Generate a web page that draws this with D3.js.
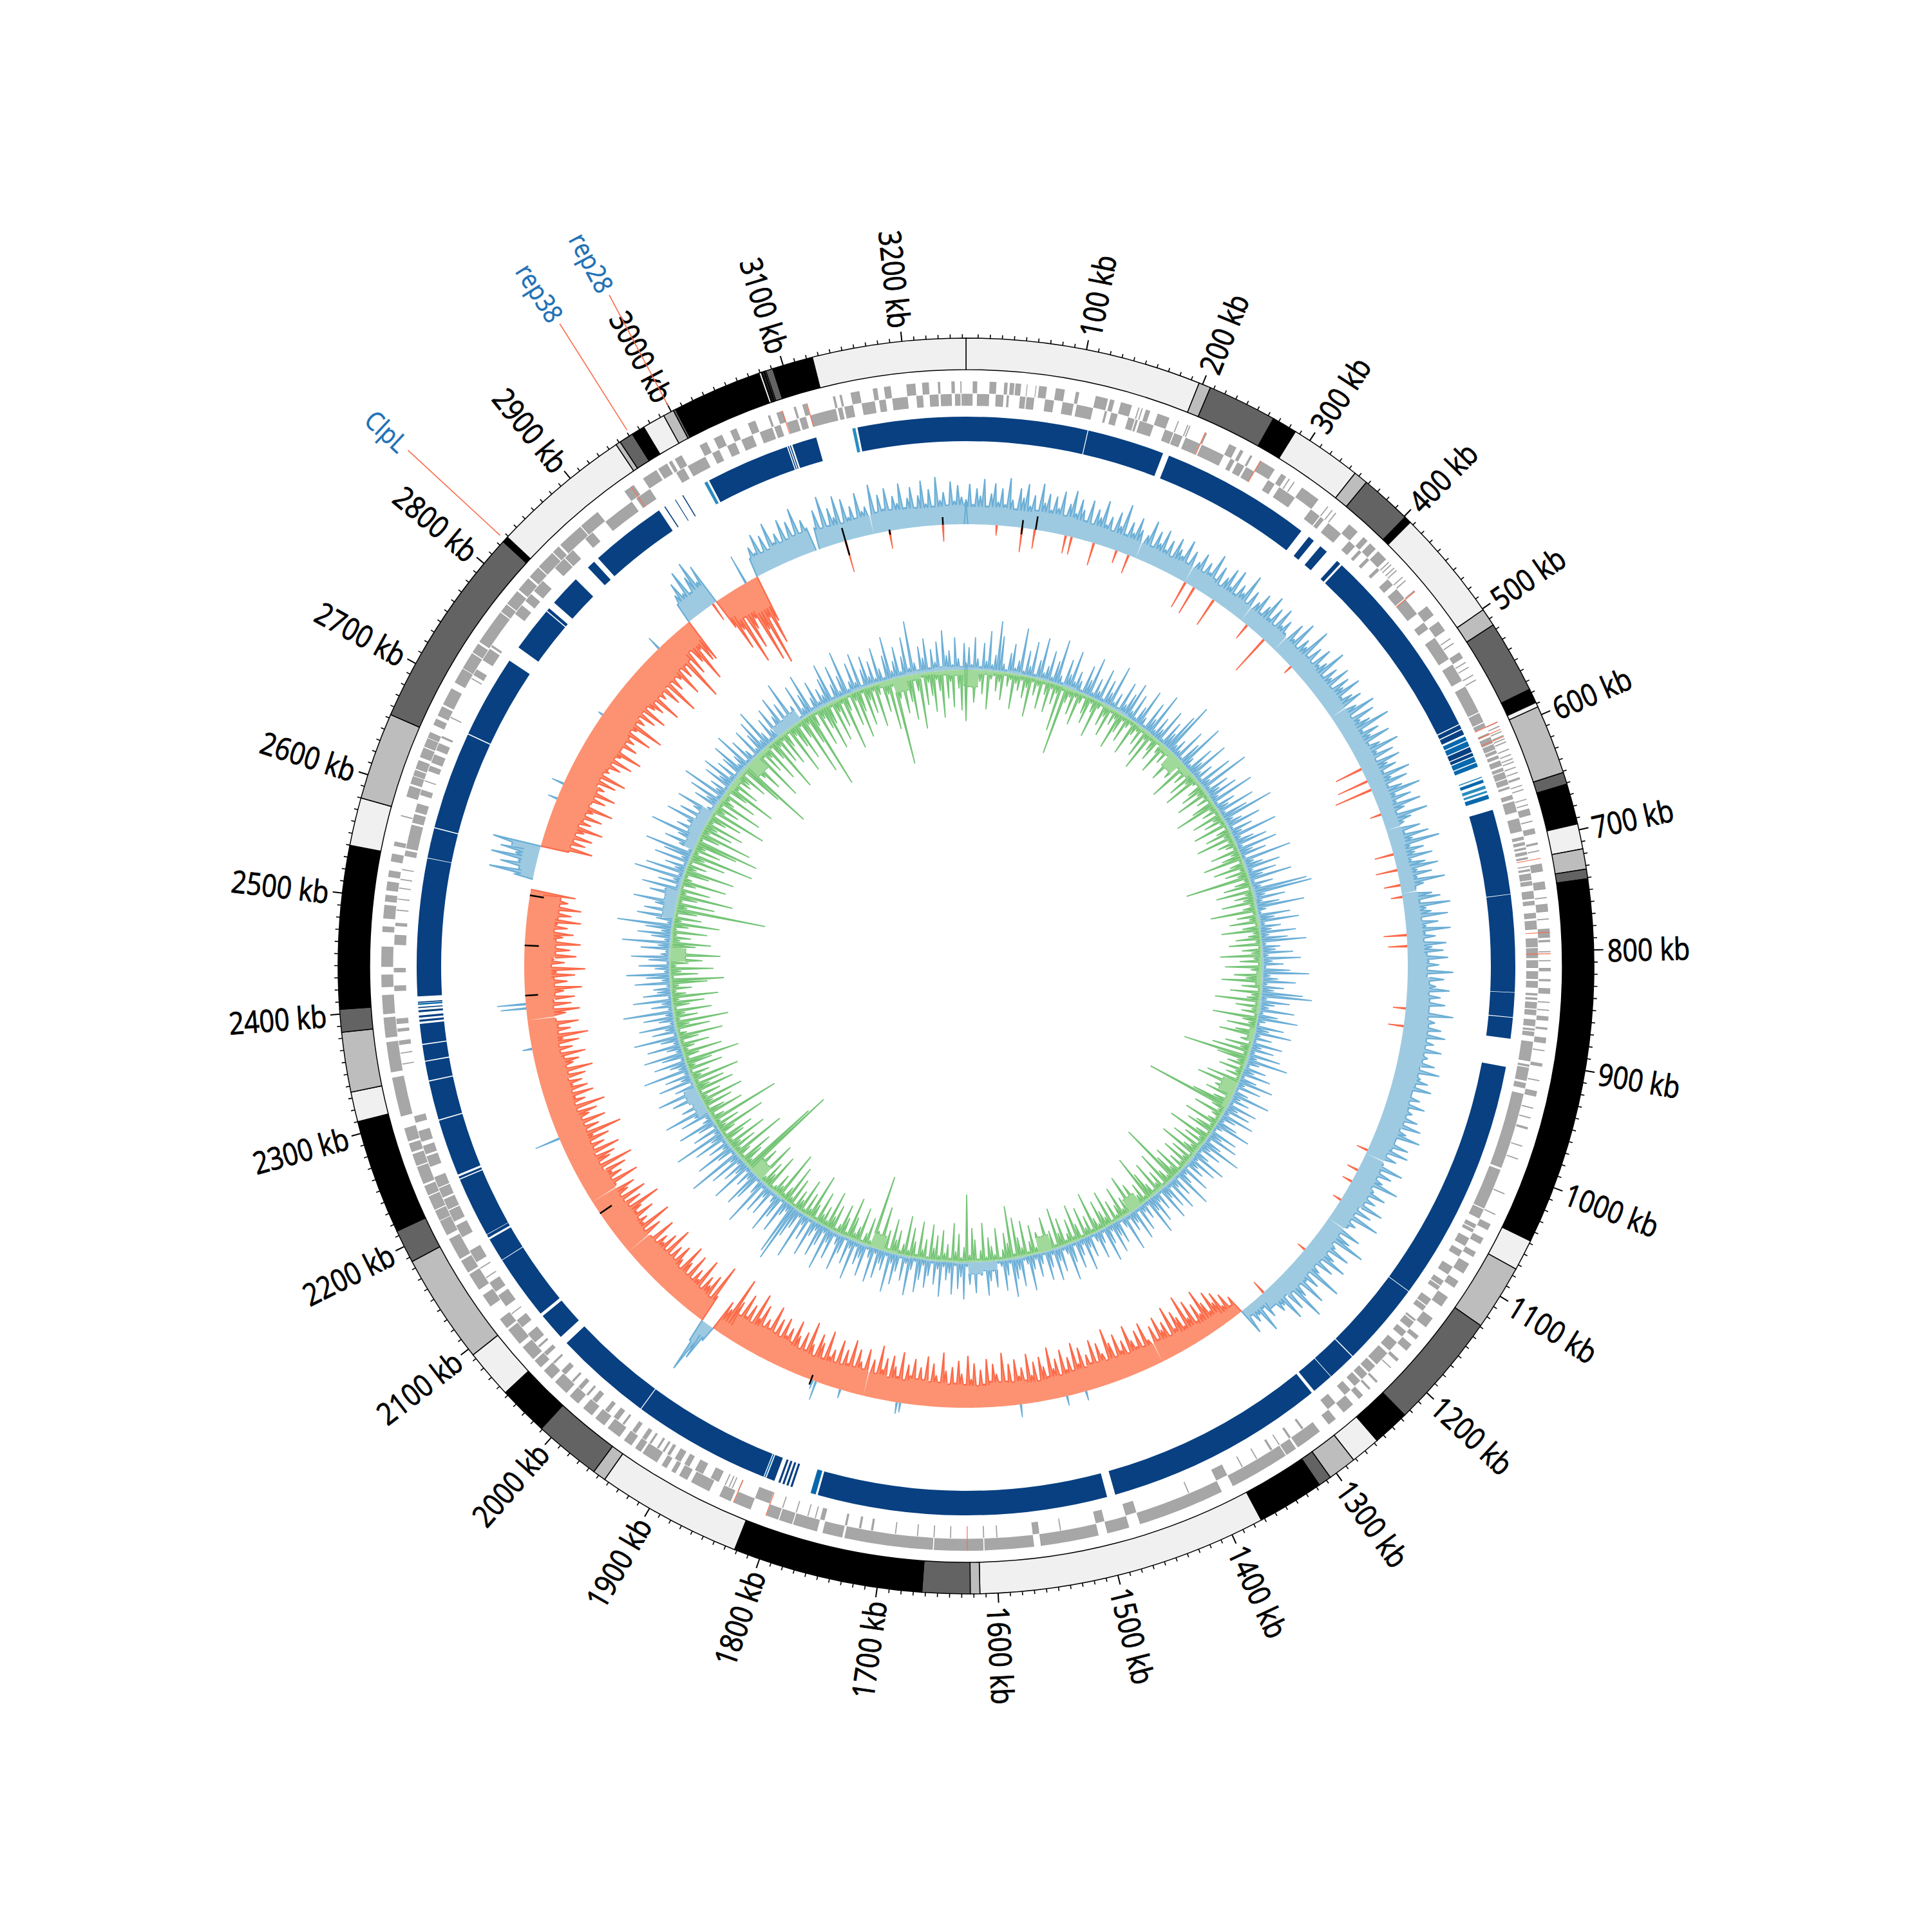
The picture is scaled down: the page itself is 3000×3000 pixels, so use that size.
<!DOCTYPE html>
<html><head><meta charset="utf-8">
<script src="https://cdn.jsdelivr.net/npm/d3@7"></script>
<style>html,body{margin:0;background:#fff}svg{display:block}</style></head>
<body><svg id="c" width="3000" height="3000"></svg>
<script>
const totalKb = 3253;
const tickLabels = d3.range(100,3300,100);
const ideoEnds = [197,207,265,286,346,358,401,407,501,516,577,589,593,651,661,695,716,733,741,1048,1074,1129,1226,1257,1282,1306,1317,1373,1615,1623,1663,1822,1944,1955,2011,2053,2094,2186,2214,2310,2335,2385,2404,2540,2580,2653,2824,2829,2947,2951,2963,2974,2993,3002,3004,3079,3081,3082,3083,3084,3085,3091,3125,3253];
const ideoColors = ["#f0f0f0","#bdbdbd","#636363","#000","#f0f0f0","#bdbdbd","#636363","#000","#f0f0f0","#bdbdbd","#636363","#000","#f0f0f0","#bdbdbd","#636363","#000","#f0f0f0","#bdbdbd","#636363","#000","#f0f0f0","#bdbdbd","#636363","#000","#f0f0f0","#bdbdbd","#636363","#000","#f0f0f0","#bdbdbd","#636363","#000","#f0f0f0","#bdbdbd","#636363","#000","#f0f0f0","#bdbdbd","#636363","#000","#f0f0f0","#bdbdbd","#636363","#000","#f0f0f0","#bdbdbd","#636363","#000","#f0f0f0","#bdbdbd","#636363","#000","#f0f0f0","#bdbdbd","#636363","#000","#f0f0f0","#000","#f0f0f0","#000","#f0f0f0","#636363","#000","#f0f0f0"];
const geneOuter = [[6,10],[21,27],[34,37],[39,43],[44,49],[54,54.7],[62,62.7],[65,72],[80,88],[98,101],[116,127],[129,133],[139,149],[155,156],[158,159],[162,166],[173,184],[192,193],[201,202],[203,204],[218,220],[242,249],[253,256],[263,265],[273,288],[295,300],[303,304],[308,309],[317,335],[345,346],[350,351],[354,355],[370,380],[387,392],[395,402],[405,415],[418,419],[421,422],[425,426],[428,429],[436,437],[440,441],[452,453],[470,480],[487,497],[505,506],[510,511],[520,526],[530,531],[535,536],[543,544],[548,549],[590,591],[594,595],[599,600],[603,604],[606,607],[609,610],[616,617],[621,622],[625,626],[628,629],[633,634],[638,639],[643,645],[650,651],[654,655],[663,664],[668,669],[672,678],[683,684],[690,695],[703,705],[710,711],[722,729],[738,745],[752,753],[758,765],[771,772],[780,788],[790,792],[800,801],[808,809],[815,818],[825,827],[833,838],[845,846],[852,853],[858,862],[868,870],[877,882],[888,889],[900,903],[915,916],[925,930],[940,941],[949,950],[958,960],[975,976],[987,988],[1020,1021],[1040,1041],[1050,1056],[1064,1070],[1078,1083],[1090,1100],[1108,1115],[1125,1135],[1148,1158],[1168,1172],[1178,1185],[1195,1198],[1205,1206],[1222,1224],[1231,1233],[1240,1245],[1252,1263],[1272,1280],
[1290,1314],[1316,1326],[1327,1381],[1392,1470],[1480,1500],[1508,1560],[1566,1610],[1611,1655],[1656,1735],[1737,1755],[1760,1782],[1783,1795],[1796,1807],[1822,1838],[1841,1852],[1862,1880],[1884,1892],[1896,1900],[1905,1910],[1915,1930],[1932,1938],[1942,1950],[1955,1968],[1972,1982],[1986,1996],[2002,2012],[2016,2030],[2034,2044],[2048,2056],[2058,2072],[2076,2092],[2094,2104],[2118,2130],[2136,2152],[2154,2166],[2168,2188],[2192,2206],[2206.6,2216],[2217,2230],[2231,2240],[2242,2258],[2259,2270],[2272,2280],[2282,2294],[2305,2340],[2345,2372],[2376,2394],[2397,2414],[2421,2432],[2439,2457],[2470,2475],[2482,2494],[2497,2503],[2507,2515],[2519,2525],[2533,2540],[2547,2551],[2574,2575],[2592,2602],[2604,2611],[2611.6,2617],[2618,2626],[2629,2638],[2639,2647],[2647.6,2653],[2660,2666],[2669,2678],[2680,2696],[2702,2716],[2716.6,2732],[2733,2742],[2744,2776],[2777,2785],[2786,2800],[2802,2815],[2817,2828],[2829,2846],[2847,2854],[2856,2880],[2881,2900],[2930,2940],[2950,2964],[2966,2975],[2977,2980],[2983,2990],
[3008,3015],[3022,3030],[3038,3044],[3055,3062],[3074,3076],[3082,3088],[3098,3100],[3106,3110],[3134,3136],[3140,3142],[3150,3158],[3170,3174],[3180,3186],[3200,3208],[3214,3220],[3228,3230],[3240,3243],[3248,3249]];
const geneInner = [[0,6],[10,21],[27,34],[37,39],[49,54],[55,62],[72,80],[88,98],[101,116],[127,129],[133,139],[149,155],[156,158],[160,173],[184,192],[193,201],[204,218],[220,242],[249,253],[256,263],[265,273],[288,295],[300,317],[335,345],[346,350],[355,370],[380,387],[392,395],[402,405],[415,418],[429,436],[441,452],[453,470],[480,487],[497,520],[526,543],[549,575],[576,585],[586,590],[596,598],[600,606],[607,612],[613,616],[618,621],[623,628],[630,633],[634,640],[641,646],[648,650],[656,660],[662,672],[678,690],[695,698],[700,703],[705,707],[709,712],[714,716],[722,723],[725,727],[729,735],[736,740],[745,752],[754,758],[765,770],[772,780],[788,796],[797,806],[808,815],[818,825],[827,833],[838,840],[842,844],[846,852],[853,858],[862,868],[870,872],[873,877],[882,900],[903,905],[906,918],[920,925],[930,1000],[1002,1040],[1041,1050],[1056,1060],[1061,1064],[1070,1078],[1083,1089],[1100,1108],[1115,1120],[1121,1125],[1135,1142],[1143,1148],[1158,1160],[1161,1168],[1172,1178],[1185,1195],[1198,1212],[1214,1222],[1224,1231],[1233,1240],[1245,1252],[1263,1272],
[1300,1302],[1314,1316],[1326,1327],[1334,1336],[1350,1351],[1365,1366],[1381,1392],[1419,1420],[1470,1480],[1500,1508],[1540,1541],[1560,1566],[1598,1599],[1610,1611],[1640,1641],[1655,1656],[1670,1671],[1690,1691],[1711,1713],[1722,1724],[1735,1737],[1756,1760],[1764,1765],[1771,1772],[1782,1783],[1795,1796],[1808,1822],[1838,1839],[1844,1845],[1847,1848],[1851,1852],[1858,1866],[1874,1882],[1888,1893],[1897,1903],[1908,1911],[1914,1916],[1920,1922],[1928,1930],[1934,1938],[1945,1949],[1958,1960],[1965,1970],[1976,1980],[1990,1995],[2000,2002],[2008,2012],[2018,2020],[2028,2033],[2042,2044],[2052,2056],[2062,2064],[2068,2078],[2086,2094],[2101,2102],[2110,2122],[2126,2136],[2141,2142],[2151,2152],[2158,2170],[2184,2196],[2200,2211],[2212,2222],[2224,2233],[2234,2244],[2254,2264],[2266,2274],[2278,2288],[2296,2302],[2350,2351],[2360,2361],[2368,2372],[2380,2383],[2387,2392],[2417,2422],[2434,2438],[2459,2468],[2476,2479],[2490,2491],[2500,2501],[2510,2511],[2518,2519],[2527,2528],[2540,2545],[2547,2569],[2571,2579],[2581,2589],[2597,2602],[2610,2611],[2620,2625],[2628,2636],[2640,2647],[2652,2654],[2672,2673],[2712,2713],[2716,2722],[2732,2744],[2746,2748],[2783,2793],[2798,2806],[2810,2822],[2838,2850],[2851,2861],[2876,2885],[2900,2930],[2935,2950],[2978,2986],[2990,3008],[3015,3022],[3030,3038],[3044,3055],[3062,3074],[3076,3082],[3088,3098],[3100,3106],[3110,3134],[3136,3140],[3142,3150],[3158,3170],[3174,3180],[3186,3200],[3208,3214],[3220,3228],[3230,3240],[3243,3248],[3249,3253]];
const geneMarks = [218,273,453,590,597,604,717,783,802,1625,1807,1838,2937,3087,3110];
const bandDark = [[0,115.6],[116.4,190],[196,340],[349,355],[363,371],[384,388],[390,577],[578,582],[583,588],[601,606],[607,610],[664,745],[745.6,838],[838.5,861.5],[862.2,882],[909,1141],[1141.7,1222],[1223,1250],[1250.6,1271],[1274,1484],[1492,1768],[1793,1795],[1797,1799],[1801,1803],[1805,1807],[1811,1819],[1822,1954],[1954.8,2048],[2056,2082],[2085,2147],[2147.6,2170],[2172,2175],[2175.5,2233],[2234,2236],[2238,2292],[2293,2330],[2331,2349],[2350,2365],[2366,2385],[2387,2389],[2391,2393],[2396,2398],[2400,2401],[2405,2406],[2411,2542],[2542.5,2571],[2572,2665],[2666,2745],[2760,2803],[2804,2807],[2814,2844],[2860,2868],[2873,2946],[2952,2953],[2964,2964.7],[2972,2973],[3001,3081],[3082,3083],[3084,3085],[3086.5,3110],[3150,3253]];
const bandMid = [[590,594],[595,600],[611,616],[617,621],[634,637],[649,653],[1770,1775],[1820,1821.2],[2403,2404.5]];
const bandLight = [[631,632],[640,643],[645,647],[2996,2999],[3145,3148]];
const skewRows = [
[38,62,31,55,44,70,29,48,64,36,57,33,74,41,28,60,46,68,35,52,30,72,43,58,34],
[56,39,66,28,49,71,37,60,45,30,63,26,52,41,69,33,47,24,58,38,74,29,50,35,61],
[44,0,40,65,27,53,36,60,31,48,25,57,42,34,62,28,50,0,38,55,26,46,33,66,29],
[52,24,41,59,32,63,27,46,36,70,23,50,0,39,57,28,44,66,31,53,25,61,35,48,30],
[0,56,33,68,27,47,38,75,30,52,25,60,34,44,72,28,50,36,63,24,55,41,67,31,46],
[58,0,42,70,26,62,35,49,78,30,54,37,66,28,44,72,33,58,25,63,40,52,29,69,36],
[60,27,47,74,32,55,29,66,38,24,71,43,30,0,52,26,62,35,76,28,48,33,59,25,45],
[64,30,52,28,70,36,23,0,46,58,26,72,34,41,66,25,50,31,68,29,44,24,60,38,55],
[27,62,33,48,24,70,30,56,26,44,65,28,52,22,60,36,25,74,31,47,26,58,35,66,24],
[50,28,64,32,45,24,58,30,68,26,41,54,27,62,33,23,49,29,60,25,44,30,56,24,65],
[28,46,70,30,25,58,34,62,26,48,0,32,66,24,53,29,44,72,27,38,60,25,50,31,68],
[24,55,30,74,26,42,33,0,60,25,50,78,28,36,64,24,46,70,30,56,26,40,82,28,52],
[34,72,26,48,84,30,58,27,66,36,42,25,20,38,18,55,22,30,15,42,-30,-18,-42,-25,-52],
[-38,-60,-30,-48,-72,-35,-55,-28,-66,-40,-80,-32,-50,-62,-36,-75,-30,-55,-44,-68,-34,-58,0,-40,-70],
[-32,-62,-38,-50,-76,-30,-56,-42,-70,-34,-60,-84,-36,-48,-66,-30,-74,-40,-54,-34,-68,-44,-78,-32,-58],
[-40,-72,-34,-60,-46,-80,-36,-52,-68,-30,-62,-42,-76,-34,-56,-44,-70,-30,-64,-38,-82,-34,-50,-66,-40],
[-74,-36,-58,-30,-68,-44,-80,-34,-52,-72,-38,-62,-30,-56,-84,-36,-48,-66,-32,-76,-40,-58,-30,-70,-44],
[-60,-34,-78,-40,-54,-70,-32,-64,-46,-82,-36,-58,0,-72,-38,-50,-68,-34,-80,-42,-62,-30,-74,-36,-56],
[-44,-82,-38,-60,-72,-34,-52,-86,-40,-66,-30,-56,-78,-36,-62,-48,-74,-32,-68,-40,-84,-46,-58,-34,-76],
[-52,-90,-38,-66,-44,-78,-34,-60,-96,-40,-50,25,60,85,35,-44,-94,-36,-70,-50,-62,-32,-84,-46,-60],
[-40,-78,-34,-58,-84,-38,-52,-72,-32,-64,-44,-88,-36,-70,-50,-60,-34,-80,-42,0,-66,-36,-90,-46,-56],
[-36,-74,-48,-60,-94,-38,-68,-42,-82,-34,-58,-72,0,-46,-86,-36,-64,-50,-76,-32,-92,-40,-60,-70,-36],
[-82,-42,-62,-36,-74,-50,-98,-38,-66,-44,-80,-34,-58,-72,-40,-88,-36,-60,-46,-76,-32,-70,-48,-64,-36],
[-72,-38,-86,-44,-58,-68,-34,-80,-42,-62,-36,-74,-50,-90,-34,-64,-46,-78,-38,0,-60,-82,-36,-70,-44],
[-76,-36,-60,-88,-42,-66,-32,-78,-50,-94,-36,-62,-46,-80,-34,-70,-44,-86,-38,-58,-74,-34,-64,-48,-84],
[-36,-68,-44,-82,-38,-60,-30,-70,null,null,null,30,70,25,55,28,72,35,60,40,75,-38,-80,-44,-66],
[-32,-74,-46,-58,-86,-36,-64,-42,-78,-34,-60,-90,-38,-52,-72,-36,-84,-44,-62,-32,-76,-40,-88,-48,-56],
[-38,-70,-46,-84,-34,-60,-92,-40,-54,-76,-36,-66,-44,-88,-38,-58,-100,-42,-62,-34,-74,-48,-86,-36,-60],
[-72,-40,-94,-46,-62,-34,-80,-50,-104,-38,-70,-44,-58,-90,-36,-66,-48,-112,-40,-74,-34,-60,-96,-44,-68],
[-70,30,45,62,40,75,35,58,80,42,66,-50,-90,-60,-120,-45,-100,-70,-55,-130,-80,-140,-65,-110,-75],
[28,46,34,62,25,55,30,70,36,48,26,66,33,58,24,75,31,52,38,null,34,60,26,78,30],
[56,40,72,28,64,34,50,26,68,38,44,0,76,30,58,35,66,24,52,40,70,32,46,62,28],
[48,70,34,56,30,74,38,50,28,66,36,60,42]
];
const skewFloor = [27,28,26,29,30,28,27,26,26,25,27,28,24,26,25,27,26,28,25,27,26,24,26,25,24,22,23,20,22,24,25,26,30,34,36,38,38,36,34,36,34,30,32,34,30,28,30,28,30,26,14,16,22,26,30,32,34,36,38,36,34,32,36,38,34,36,38,40,36,38,40,38,36,38,42,44,40,20,36,38,40,44,42,40,44,42,44,40,42,44,42,44,46,42,44,42,46,42,48,44,48,20,24,44,46,50,52,48,52,54,50,48,52,50,46,36,32,34,44,50,30,32,34,30,28,30,32,30,28,30,28];
const skewSpots = [[36,-16,"o"],[66,-38,"o"],[81,-30,"o"],[118,-28,"o"],[125,-28,"o"],[152,-36,"o"],[180,-20,"o"],[195,-30,"o"],[269,-44,"o"],[281,-46,"o"],[308,-46,"o"],[357,-26,"o"],[383,-64,"o"],[428,-14,"o"],[574,-44,"o"],[590,-50,"o"],[601,-60,"o"],[632,-18,"o"],[681,-30,"o"],[700,-34,"o"],[718,-26,"o"],[732,-18,"o"],[777,-36,"o"],[790,-30,"o"],[863,-20,"o"],[884,-24,"o"],[1036,-18,"o"],[1062,-18,"o"],[1077,-16,"o"],[1102,-14,"o"],[1174,-14,"o"],[1244,-22,"o"],[3110,-50,"o"],[3163,-28,"o"],[3226,-26,"o"],[2937,-30,"o"],[1484,15,"b"],[1507,15,"b"],[1562,20,"b"],[1704,15,"b"],[1708,18,"b"],[1776,14,"b"],[1806,30,"b"],[1810,14,"b"],[2232,40,"b"],[2342,15,"b"],[2390,40,"b"],[2395,45,"b"],[2641,15,"b"],[2660,20,"b"],[2753,8,"b"],[2855,22,"b"],[2983,47,"b"]];
const skewBlack = [[66,-10,12],[82,0,21],[1812,-8,8],[2132,0,-22],[2405,0,-20],[2464,0,-22],[2523,0,-22],[3110,-23,21],[3163,-6,2],[3226,0,12]];
const outerBlueRows = [
[22,48,18,62,30,14,55,26,71,20,38,84,66,24,12,44,58,19,34,80],
[16,52,28,66,14,42,74,22,36,60,18,48,78,26,13,56,34,70,24,44],
[30,12,58,38,72,18,46,26,64,15,52,34,76,20,40,14,62,28,50,68],
[24,56,16,42,70,28,13,60,36,78,20,48,30,66,15,54,38,72,90,26],
[40,22,64,14,50,82,30,18,58,36,74,24,44,16,68,28,86,20,52,34],
[60,24,78,14,46,32,70,18,56,88,26,40,66,16,50,30,80,22,44,62],
[18,72,34,54,14,84,28,42,66,20,58,36,76,16,48,26,90,95,30,60],
[22,50,82,26,14,62,38,72,18,46,30,66,24,54,78,16,42,34,60,20],
[70,28,46,14,56,80,24,38,64,18,48,32,74,85,20,58,36,26,66,16],
[44,72,24,12,56,34,68,20,42,14,60,28,50,18,62,26,74,34,16,48],
[30,58,14,40,66,22,52,12,36,70,26,44,16,60,32,54,20,64,38,18],
[46,68,24,12,56,34,62,16,42,74,28,50,14,36,66,20,58,30,44,12],
[60,22,38,72,14,48,28,64,18,54,34,66,12,44,26,58,36,70,16,40],
[24,54,14,62,32,44,18,68,28,12,50,36,60,20,42,66,14,34,56,26],
[12,48,30,64,20,38,56,14,44,68,26,16,52,34,62,18,40,58,12,30],
[50,18,36,66,24,14,58,32,46,70,16,38,60,20,12,54,28,44,64,22],
[34,12,60,26,48,16,68,36,54,14,62,30,42,18,66,24,50,12,38,56],
[20,46,64,14,32,70,22,52,12,40,60,28,72,16,44,34,58,18,66,30],
[14,62,36,48,18,72,26,54,12,42,68,30,16,58,34,76,20,46,64,24],
[38,70,14,52,28,82,18,44,60,95,88,24,36,66,12,50,74,28,16,58],
[30,60,18,84,38,14,56,70,26,44,16,76,34,52,20,66,28,90,14,42],
[72,24,48,16,64,34,86,20,56,12,42,70,28,18,60,36,78,14,50,26],
[16,58,34,74,22,46,12,66,30,54,18,80,26,40,62,14,48,72,20,36],
[64,20,42,78,14,52,30,68,18,38,60,24,84,16,46,28,70,12,56,34],
[40,14,66,24,50,76,18,36,60,12,46,70,26,16,58,32,82,20,44,64],
[28,54,90,18,40,68,14,60,32,46,76,22,12,58,36,70,16,50,26,84],
[18,72,30,48,14,66,24,56,82,16,38,62,28,46,85,20,54,12,42,74],
[26,60,16,44,70,22,12,52,34,64,18,78,28,42,14,58,36,66,20,50],
[14,48,66,24,38,72,16,54,30,12,60,20,46,64,26,74,34,16,52,28],
[62,18,44,70,14,56,30,80,22,40,12,66,26,48,74,16,34,58,20,42],
[28,54,72,14,38,64,20,46,78,16,30,58,24,68,12,42,60,26,50,18],
[66,34,14,52,76,24,40,60,18,44,70,22,88,30,14,54,36,64,16,48],
[26,58,14,72,36,44,18,62,30,12,54]
];
const outerBlueFloor = [4,3,2,4,2,3,2,4,2,2,3,4,2,2,1,2,2,1,2,3,1,2,3,2,1,3,2,4,2,3,1,2,3,2,2,3,1,2,2,3,1,2,3,2,1,2,1,3,2,3,2,1,2,3,1,2,1,2,3,2,1,3,2,14,18,3,1,2,1,3,2,1,3,2,3,1,2,2,1,3,3,2,1,2,3,1,2,16,20,3,2,1,2,3,2,1,1,2,3,2,2,18,20,4,3,2,16,20,18,4,2,3,4,3,2,2,16,18,3,4,3,2,4,3,2,3,5,4,6,5,4];
const innerGreenRows = [
[85,22,40,62,18,30,50,14,70,24,16,44,28,56,12,34,20,66,26,38],
[18,48,30,72,16,40,22,58,14,34,60,20,46,26,80,16,105,36,24,52],
[20,64,28,14,42,56,18,34,70,22,12,48,30,60,16,38,24,70,44,18],
[54,26,16,66,32,20,44,14,58,24,72,18,36,50,12,30,62,22,40,16],
[28,60,18,34,48,14,74,24,42,16,56,30,68,20,12,38,52,26,64,18],
[36,14,50,76,22,40,16,60,28,46,18,66,12,34,54,24,70,20,42,30],
[16,58,26,44,72,14,36,62,20,48,28,100,18,38,56,12,68,24,44,30],
[64,20,34,80,16,46,26,58,14,40,70,22,32,52,18,62,12,44,28,74],
[24,48,14,68,30,18,56,38,72,20,44,12,60,26,34,78,16,50,22,40],
[14,78,36,24,58,16,44,66,20,32,12,54,28,70,18,102,60,26,42,16],
[52,22,38,14,64,30,74,18,46,26,56,14,40,70,122,36,20,60,28,16],
[30,66,18,44,56,12,36,76,22,48,16,62,26,38,72,14,50,24,58,20],
[40,14,60,28,52,99,20,36,68,12,44,24,64,16,34,56,82,18,46,28],
[16,54,30,70,14,42,22,62,36,18,48,12,66,26,40,58,20,34,74,16],
[44,24,60,12,38,68,18,50,28,16,56,34,72,14,42,22,64,30,12,46],
[20,58,34,14,66,26,44,72,16,87,38,54,28,12,62,20,36,50,16,70],
[30,12,48,64,22,103,36,16,56,28,70,14,40,24,60,18,52,32,66,12],
[44,26,68,14,38,58,20,72,30,16,50,34,64,12,46,24,76,18,40,109],
[18,56,30,12,66,36,22,48,74,16,42,60,26,14,54,34,70,20,44,28],
[62,14,38,80,24,50,16,66,30,44,12,58,22,72,36,18,84,28,46,20],
[14,68,34,52,20,76,28,12,60,40,136,118,24,48,66,16,36,90,22,54],
[30,74,18,46,62,14,38,84,26,52,20,107,34,16,68,42,12,58,28,76],
[22,48,14,70,36,60,18,82,28,44,12,66,24,54,90,16,38,72,20,34],
[58,16,44,78,26,12,64,34,88,18,50,30,70,14,40,62,22,80,36,18],
[46,24,68,88,14,56,30,76,20,42,62,16,84,34,12,52,72,26,44,18],
[66,16,38,80,24,56,14,48,127,30,70,18,44,90,22,60,12,36,78,26],
[16,52,84,28,44,14,68,36,100,20,56,30,76,100,16,46,88,24,60,34],
[72,20,42,64,14,92,30,52,18,80,36,24,66,14,48,86,26,58,20,40],
[34,60,16,78,113,24,46,68,12,38,88,20,54,30,72,16,44,92,26,58],
[20,66,40,14,84,28,52,72,18,44,96,24,60,116,36,14,70,30,50,80],
[46,16,74,32,58,20,90,38,12,64,26,82,48,16,70,34,56,20,76,30],
[14,60,34,84,22,123,46,18,68,30,54,78,20,40,90,16,62,28,50,72],
[24,44,80,16,56,30,68,18,42,72,26]
];
const innerGreenFloor = [26,6,4,3,2,3,2,4,3,2,4,3,2,4,4,8,24,10,4,3,4,3,2,3,2,3,2,2,3,4,2,3,5,8,3,4,2,8,3,3,2,24,8,3,2,2,4,3,2,2,4,3,22,3,3,2,2,3,2,24,3,3,2,2,3,2,3,2,3,2,4,22,3,3,2,2,3,2,2,3,2,24,4,3,2,2,3,2,2,3,2,3,2,2,3,2,3,2,24,3,2,3,3,2,2,3,3,2,3,4,6,8,4,24,6,3,4,3,2,3,4,3,2,3,8,22,8,4,6,8,24];
const ctr = 1500, rOuter = 975, rInner = 926, geneIn = 870, geneMid = 889, geneOut = 908, bandIn = 815, bandOut = 853, skewBase = 686, gcBase = 460;
const svg = d3.select("#c");
const g = svg.append("g").attr("transform",`translate(${ctr},${ctr})`);
const ang = d3.scaleLinear().domain([0,totalKb]).range([0,2*Math.PI]);
const arc = d3.arc();
const rad = s => s*180/Math.PI;

ideoEnds.forEach((e,i)=>{
  const s = i? ideoEnds[i-1]:0;
  g.append("path").attr("d",arc({innerRadius:rInner,outerRadius:rOuter,startAngle:ang(s),endAngle:ang(e)}))
   .attr("fill",ideoColors[i]).attr("stroke","#000").attr("stroke-width",1.5);
});
d3.range(10,totalKb,10).forEach(k=>{
  const major = k%100===0, a = rad(ang(k))-90;
  g.append("line").attr("transform",`rotate(${a})`).attr("x1",rOuter).attr("x2",rOuter+(major?15:6))
   .attr("stroke","#000").attr("stroke-width",major?2:1.6);
});
tickLabels.forEach(k=>{
  const deg = rad(ang(k)), flip = deg>180;
  g.append("text").attr("transform",`rotate(${deg-90}) translate(${rOuter+21},0)`+(flip?" rotate(180)":"")+" scale(0.86,1)")
   .attr("text-anchor",flip?"end":"start").attr("dominant-baseline","central")
   .attr("font-family","Open Sans").attr("font-size",48).attr("fill","#000").attr("stroke","#000").attr("stroke-width",0.9).text(k+" kb");
});
const geneArc = (list,r0,r1,col)=>g.append("g").selectAll("path").data(list).join("path")
  .attr("d",d=>arc({innerRadius:r0,outerRadius:r1,startAngle:ang(d[0]),endAngle:ang(d[1])})).attr("fill",col);
geneArc(geneOuter,geneMid+0.5,geneOut,"#a0a0a0");
geneArc(geneInner,geneIn,geneMid-0.5,"#a0a0a0");
const slitPath = d3.path();
const slit = (list,r0,r1)=>list.forEach(d=>{
  for(let k=d[0]+1.1;k<d[1]-0.4;k+=1.1){const a=ang(k)-Math.PI/2;
    slitPath.moveTo(r0*Math.cos(a),r0*Math.sin(a));slitPath.lineTo(r1*Math.cos(a),r1*Math.sin(a));}
});
slit(geneOuter,geneMid,geneOut);slit(geneInner,geneIn,geneMid);
g.append("path").attr("d",slitPath.toString()).attr("stroke","#fff").attr("stroke-opacity",0.2).attr("stroke-width",0.7).attr("fill","none");
geneArc(geneMarks.map(k=>[k,k+0.7]),geneIn,geneOut,"#fb6a4a");
const bandArc = (list,col)=>geneArc(list,bandIn,bandOut,col);
bandArc(bandDark,"#084081");bandArc(bandMid,"#0868ac");bandArc(bandLight,"#2b8cbe");

function flat(rows,step){const o=[];rows.forEach((r,i)=>r.forEach((v,j)=>o.push({kb:i*100+j*step,v})));o.push({kb:totalKb,v:rows[0][0]});return o;}
// each sample is a spike rising from the solid floor read for that stretch of the track
function signedTrack(pts,floor,sign,base,heightScale,w,fill,line,sw){
  const strict = x=> x!==null && x!==undefined && x*sign>0;
  const on = (x,i)=> x===0 ? (i>0&&strict(pts[i-1].v))||(i<pts.length-1&&strict(pts[i+1].v)) : strict(x);
  const fillSeq=[], lineSeq=[];
  pts.forEach((p,i)=>{
    if(!on(p.v,i)){fillSeq.push({kb:p.kb,r:null});lineSeq.push({kb:p.kb,r:null});return;}
    const f = floor[Math.min(floor.length-1,Math.floor(p.kb/25))];
    const prevOn = i>0&&on(pts[i-1].v,i-1), nextOn = i<pts.length-1&&on(pts[i+1].v,i+1);
    if(p.v===0){
      fillSeq.push({kb:p.kb-0.45,r:base+sign*f},{kb:p.kb,r:base},{kb:p.kb+0.45,r:base+sign*f});
      lineSeq.push({kb:p.kb,r:null});
      return;
    }
    const top = Math.max(heightScale(Math.abs(p.v)),f);
    const a={kb:p.kb-w,r:base+sign*(prevOn?f:0)}, b={kb:p.kb,r:base+sign*top}, c={kb:p.kb+w,r:base+sign*(nextOn?f:0)};
    fillSeq.push(a,b,c); lineSeq.push(a,b,c,{kb:p.kb,r:null});
  });
  const area = d3.areaRadial().defined(d=>d.r!==null).angle(d=>ang(d.kb)).innerRadius(base).outerRadius(d=>d.r);
  const ln = d3.lineRadial().defined(d=>d.r!==null).angle(d=>ang(d.kb)).radius(d=>d.r);
  g.append("path").attr("d",area(fillSeq)).attr("fill",fill);
  g.append("path").attr("d",ln(lineSeq)).attr("fill","none").attr("stroke",line).attr("stroke-width",sw).attr("stroke-linejoin","round");
}
const skewScale = d3.scaleLinear().domain([-100,100]).range([skewBase-100,skewBase+100]);
const skewHeight = d3.scaleLinear().domain([0,100]).range([0,100]);
const skewPts = flat(skewRows,4);
signedTrack(skewPts,skewFloor,1,skewBase,skewHeight,2,"#9ecae1","#6baed6",2.2);
signedTrack(skewPts,skewFloor,-1,skewBase,skewHeight,2,"#fc9272","#fb6a4a",2.2);
const spotLine = d3.lineRadial().angle(d=>ang(d[0])).radius(d=>skewScale(d[1]));
skewSpots.forEach(s=>{
  g.append("path").attr("d",spotLine([[s[0]-0.9,0],[s[0],s[1]],[s[0]+0.9,0]]))
   .attr("fill",s[2]==="o"?"#fb6a4a":"#6baed6").attr("stroke",s[2]==="o"?"#fb6a4a":"#6baed6").attr("stroke-width",1.5);
});
skewBlack.forEach(s=>{
  g.append("path").attr("d",spotLine([[s[0],s[1]],[s[0],s[2]]])).attr("fill","none").attr("stroke","#000").attr("stroke-width",2.5);
});
// GC tracks: most windows stay low and only a few rise far, hence the power scale
const gcHeight = d3.scalePow().exponent(1.45).domain([0,100]).range([0,100]);
signedTrack(flat(outerBlueRows,5),outerBlueFloor,1,gcBase,gcHeight,1.9,"#9ecae1","#6baed6",1.8);
signedTrack(flat(innerGreenRows,5).map(d=>({kb:d.kb,v:-d.v})),innerGreenFloor,-1,gcBase,gcHeight,1.9,"#a1d99b","#74c476",1.8);

const notes = [["ClpL",2826],["rep38",2961],["rep28",3000]];
notes.forEach(([t,k])=>{
  const deg = rad(ang(k));
  g.append("line").attr("transform",`rotate(${deg-90})`).attr("x1",985).attr("x2",1180).attr("stroke","#fb6a4a").attr("stroke-width",1.6);
  g.append("text").attr("transform",`rotate(${deg-90}) translate(1188,0) rotate(180) scale(0.88,1)`).attr("text-anchor","end").attr("dominant-baseline","central")
   .attr("font-family","Open Sans").attr("font-size",41).attr("fill","#2171b5").attr("stroke","#2171b5").attr("stroke-width",0.5).text(t);
});
</script></body></html>
